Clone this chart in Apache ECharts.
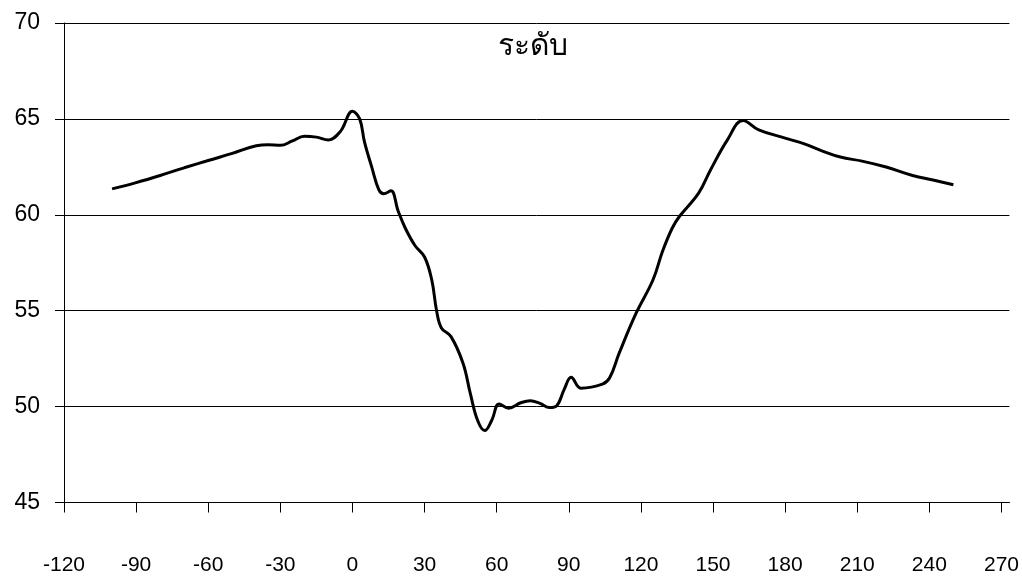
<!DOCTYPE html>
<html>
<head>
<meta charset="utf-8">
<script src="https://cdn.jsdelivr.net/npm/echarts@6/dist/echarts.min.js"></script>
<style>html,body{margin:0;padding:0;background:#fff}#c{width:1022px;height:583px}</style>
</head>
<body>
<div id="c"></div>
<script>
const title = 'ระดับ';
const xValues = [-100,-90,-80,-70,-60,-50,-40,-35,-30,-25,-20,-15,-10,-5,0,3,5,8,11,13,16,19,22,26,30,33,35,37,41,46,49,52,55,58,61,65,70,74,78,82,85,88,91,95,104,107,111,118,125,129,133,136,144,149,156,162.5,169,180,188,195,203,212,222,233,242,250];
const yValues = [61.35,61.68,62.05,62.45,62.83,63.2,63.6,63.65,63.62,63.85,64.1,64.05,63.9,64.35,65.4,65.0,63.8,62.5,61.3,61.1,61.25,60.2,59.3,58.4,57.8,56.6,55.0,54.1,53.65,52.26,50.7,49.3,48.75,49.3,50.14,49.92,50.2,50.31,50.17,49.95,50.05,50.87,51.53,50.96,51.17,51.5,52.8,54.87,56.6,58.1,59.3,59.91,61.13,62.35,63.91,64.92,64.43,64.0,63.7,63.35,63.01,62.8,62.49,62.05,61.8,61.57];
const xTicks = [-120,-90,-60,-30,0,30,60,90,120,150,180,210,240,270];
const yTicks = [45,50,55,60,65,70];

const chart = echarts.init(document.getElementById('c'), null, {renderer: 'canvas'});
chart.setOption({
  backgroundColor: '#fff',
  animation: false,
  title: {
    text: title, left: 528, top: 27, textAlign: 'center',
    textStyle: {fontSize: 30, fontWeight: 'normal', color: '#000', fontFamily: 'sans-serif'}
  },
  grid: {left: 64, right: 12, top: 23, bottom: 80.5, containLabel: false},
  xAxis: {
    type: 'value', min: -120, max: 273.3,
    axisLine: {show: true, onZero: false, lineStyle: {color: '#000', width: 1}},
    axisTick: {show: true, length: 10, customValues: xTicks, lineStyle: {color: '#000'}},
    axisLabel: {customValues: xTicks, margin: 52, fontSize: 21, color: '#000', fontFamily: 'Liberation Sans'},
    splitLine: {show: false}
  },
  yAxis: {
    type: 'value', min: 45, max: 70, interval: 5,
    axisLine: {show: true, onZero: false, lineStyle: {color: '#000', width: 1}},
    axisTick: {show: true, length: 9, customValues: yTicks, lineStyle: {color: '#000'}},
    axisLabel: {customValues: yTicks, margin: 24, fontSize: 23, color: '#000', fontFamily: 'Liberation Sans'},
    splitLine: {show: true, lineStyle: {color: '#000', width: 1}}
  },
  series: [{
    type: 'line', smooth: 0.4, symbol: 'none',
    data: xValues.map((x, i) => [x, yValues[i]]),
    lineStyle: {color: '#000', width: 3}
  }]
});
</script>
</body>
</html>
